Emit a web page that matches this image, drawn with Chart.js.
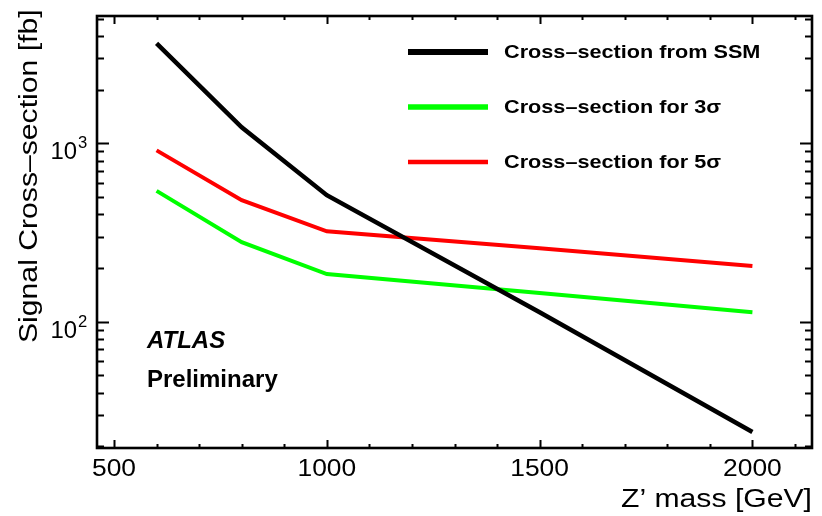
<!DOCTYPE html>
<html>
<head>
<meta charset="utf-8">
<script src="https://cdn.jsdelivr.net/npm/chart.js@4/dist/chart.umd.min.js"></script>
<style>
  html, body { margin: 0; padding: 0; background: #fff; }
  #wrap { width: 822px; height: 516px; }
</style>
</head>
<body>
<div id="wrap"><canvas id="c" width="822" height="516"></canvas></div>
<script>
// Z' mass points [GeV] and cross-sections [fb]
const masses     = [600, 800, 1000, 1500, 2000];
const ssmXsec    = [3636, 1230, 512, 113, 24.1];
const xsec3sigma = [541, 279, 185, 145, 113];
const xsec5sigma = [913, 480, 321, 258, 205];

const seriesLabels = ['Cross\u2013section from SSM', 'Cross\u2013section for 3\u03c3', 'Cross\u2013section for 5\u03c3'];
const seriesColors = ['#000000', '#00ff00', '#ff0000'];

// axis ticks
const xMajorTicks = [500, 1000, 1500, 2000];
const xMinorStep = 100;
const yDecades = [2, 3];           // labelled as 10^n
const xTitle = 'Z\u2019 mass [GeV]';
const yTitle = 'Signal Cross\u2013section [fb]';

const FONT = '"Liberation Sans", Arial, Helvetica, sans-serif';

function toPoints(ys) { return masses.map((m, i) => ({ x: m, y: ys[i] })); }

function scaledText(ctx, text, x, y, sx, align) {
  ctx.save();
  ctx.translate(x, y);
  ctx.scale(sx, 1);
  ctx.textAlign = align;
  ctx.fillText(text, 0, 0);
  ctx.restore();
}

const frameAndLabels = {
  id: 'frameAndLabels',
  afterDatasetsDraw(chart) {
    const ctx = chart.ctx;
    const a = chart.chartArea;
    const xs = chart.scales.x, ys = chart.scales.y;
    ctx.save();
    ctx.strokeStyle = '#000';
    ctx.fillStyle = '#000';

    // frame
    ctx.lineWidth = 2.6;
    ctx.strokeRect(a.left, a.top, a.right - a.left, a.bottom - a.top);

    // x ticks (inside, bottom and top)
    ctx.lineWidth = 2;
    for (let v = xMajorTicks[0]; v <= xs.max; v += xMinorStep) {
      const px = Math.round(xs.getPixelForValue(v)) + 0.5;
      const len = xMajorTicks.includes(v) ? 8 : 4;
      ctx.beginPath();
      ctx.moveTo(px, a.bottom); ctx.lineTo(px, a.bottom - len);
      ctx.moveTo(px, a.top); ctx.lineTo(px, a.top + len);
      ctx.stroke();
    }
    // y ticks (log, inside, left and right)
    for (let d = 1; d <= 3; d++) {
      for (let k = 1; k <= 9; k++) {
        const v = k * Math.pow(10, d);
        if (v < ys.min || v > ys.max) continue;
        const py = Math.round(ys.getPixelForValue(v)) + 0.5;
        const len = k === 1 ? 12 : 7;
        ctx.beginPath();
        ctx.moveTo(a.left, py); ctx.lineTo(a.left + len, py);
        ctx.moveTo(a.right, py); ctx.lineTo(a.right - len, py);
        ctx.stroke();
      }
    }

    // x tick labels
    ctx.font = '24px ' + FONT;
    ctx.textBaseline = 'alphabetic';
    xMajorTicks.forEach(v => {
      scaledText(ctx, String(v), xs.getPixelForValue(v), 476, 1.1, 'center');
    });
    // y tick labels 10^n
    yDecades.forEach(n => {
      const py = ys.getPixelForValue(Math.pow(10, n));
      ctx.font = '23px ' + FONT;
      scaledText(ctx, '10', 77, py + 16, 1.04, 'right');
      ctx.font = '16px ' + FONT;
      scaledText(ctx, String(n), 78, py + 5, 1.04, 'left');
    });

    // axis titles
    ctx.font = '26px ' + FONT;
    scaledText(ctx, xTitle, a.right, 507, 1.16, 'right');
    ctx.save();
    ctx.translate(37, 343);
    ctx.rotate(-Math.PI / 2);
    scaledText(ctx, yTitle, 0, 0, 1.16, 'left');
    ctx.restore();

    // legend
    const legendY = [52, 107, 162];
    const legendWidths = [6, 5.5, 4.5];
    chart.data.datasets.forEach((ds, i) => {
      ctx.strokeStyle = ds.borderColor;
      ctx.lineWidth = legendWidths[i];
      ctx.beginPath();
      ctx.moveTo(408, legendY[i]); ctx.lineTo(488, legendY[i]);
      ctx.stroke();
      ctx.fillStyle = '#000';
      ctx.font = 'bold 19px ' + FONT;
      ctx.textBaseline = 'middle';
      scaledText(ctx, ds.label, 504, legendY[i] + 1, 1.14, 'left');
    });

    // experiment label
    ctx.textBaseline = 'alphabetic';
    ctx.font = 'italic bold 24px ' + FONT;
    scaledText(ctx, 'ATLAS', 147, 348, 1.0, 'left');
    ctx.font = 'bold 24px ' + FONT;
    scaledText(ctx, 'Preliminary', 147, 387, 1.0, 'left');
    ctx.restore();
  }
};

new Chart(document.getElementById('c'), {
  type: 'line',
  data: {
    datasets: [
      { label: seriesLabels[0], data: toPoints(ssmXsec),    borderColor: seriesColors[0], borderWidth: 4.5 },
      { label: seriesLabels[1], data: toPoints(xsec3sigma), borderColor: seriesColors[1], borderWidth: 4 },
      { label: seriesLabels[2], data: toPoints(xsec5sigma), borderColor: seriesColors[2], borderWidth: 4 }
    ]
  },
  options: {
    responsive: false,
    animation: false,
    devicePixelRatio: 1,
    layout: { padding: { left: 97, right: 10, top: 16, bottom: 68 } },
    elements: { point: { radius: 0 }, line: { tension: 0, borderCapStyle: 'butt' } },
    plugins: { legend: { display: false }, tooltip: { enabled: false } },
    scales: {
      x: { type: 'linear', min: 460, max: 2140, display: false },
      y: { type: 'logarithmic', min: 19.6, max: 5170, display: false }
    }
  },
  plugins: [frameAndLabels]
});
</script>
</body>
</html>
